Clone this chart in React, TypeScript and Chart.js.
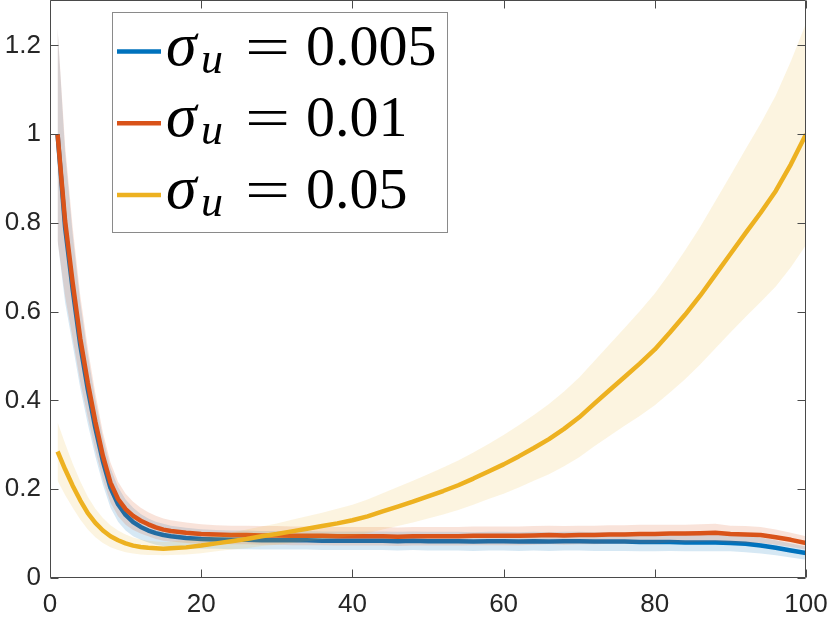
import React, { useEffect, useRef } from 'react';
import { Chart, registerables } from 'chart.js';

Chart.register(...registerables);

// ---------- data ----------
const xs = [1, 2, 3, 4, 5, 6, 7, 8, 9, 10, 11, 12, 13, 14, 15, 16, 18, 20, 22, 24, 26, 28, 30, 32, 34, 36, 38, 40,
  42, 44, 46, 48, 50, 52, 54, 56, 58, 60, 62, 64, 66, 68, 70, 72, 74, 76, 78, 80, 82, 84, 86, 88, 90, 92, 94, 96, 98, 100];

const blueMean = [1.0, 0.79, 0.65, 0.525, 0.425, 0.338, 0.263, 0.203, 0.166, 0.142, 0.126, 0.115, 0.107, 0.101, 0.097, 0.094,
  0.090, 0.088, 0.087, 0.086, 0.086, 0.085, 0.085, 0.085, 0.085, 0.084, 0.084, 0.084,
  0.084, 0.084, 0.083, 0.084, 0.083, 0.083, 0.083, 0.082, 0.083, 0.083, 0.082, 0.083, 0.082, 0.083, 0.083, 0.082,
  0.082, 0.082, 0.081, 0.081, 0.081, 0.080, 0.080, 0.080, 0.079, 0.077, 0.073, 0.068, 0.062, 0.056];

const orangeMean = [1.0, 0.804, 0.665, 0.54, 0.44, 0.352, 0.275, 0.215, 0.178, 0.155, 0.14, 0.129, 0.121, 0.114, 0.109, 0.106,
  0.102, 0.099, 0.098, 0.097, 0.097, 0.096, 0.096, 0.095, 0.095, 0.095, 0.094, 0.094,
  0.094, 0.094, 0.093, 0.094, 0.094, 0.094, 0.094, 0.095, 0.095, 0.095, 0.095, 0.096, 0.097, 0.096, 0.097, 0.097,
  0.098, 0.098, 0.099, 0.099, 0.100, 0.100, 0.101, 0.102, 0.099, 0.098, 0.097, 0.092, 0.086, 0.079];

const yellowMean = [0.285, 0.245, 0.208, 0.175, 0.146, 0.124, 0.107, 0.094, 0.085, 0.078, 0.073, 0.070, 0.068, 0.067, 0.066, 0.067,
  0.069, 0.073, 0.078, 0.083, 0.088, 0.094, 0.099, 0.105, 0.111, 0.117, 0.123, 0.130,
  0.139, 0.150, 0.161, 0.172, 0.184, 0.196, 0.209, 0.224, 0.240, 0.256, 0.274, 0.293, 0.313, 0.336, 0.362, 0.393,
  0.423, 0.453, 0.483, 0.515, 0.553, 0.593, 0.636, 0.683, 0.730, 0.777, 0.823, 0.872, 0.932, 1.000];

// half-widths of the shaded bands
const blueOrangeSpread = [0.24, 0.17, 0.125, 0.097, 0.078, 0.064, 0.053, 0.045, 0.039, 0.035, 0.032, 0.029, 0.027, 0.026, 0.025, 0.024,
  0.023, 0.022, 0.021, 0.021, 0.021, 0.021, 0.021, 0.021, 0.021, 0.021, 0.021, 0.021,
  0.021, 0.021, 0.021, 0.021, 0.021, 0.021, 0.021, 0.021, 0.021, 0.021, 0.021, 0.021, 0.021, 0.021, 0.021, 0.021,
  0.021, 0.021, 0.021, 0.021, 0.020, 0.020, 0.020, 0.020, 0.019, 0.019, 0.018, 0.017, 0.016, 0.015];

const yellowSpread = [0.066, 0.058, 0.05, 0.043, 0.037, 0.032, 0.028, 0.025, 0.022, 0.02, 0.018, 0.017, 0.016, 0.015, 0.015, 0.015,
  0.016, 0.017, 0.018, 0.019, 0.021, 0.022, 0.024, 0.026, 0.028, 0.030, 0.033, 0.035,
  0.038, 0.041, 0.044, 0.047, 0.05, 0.053, 0.056, 0.059, 0.062, 0.066, 0.07, 0.074, 0.079, 0.084, 0.09, 0.096,
  0.103, 0.11, 0.118, 0.126, 0.135, 0.145, 0.155, 0.166, 0.177, 0.189, 0.201, 0.215, 0.232, 0.25];

const seriesValues = ['0.005', '0.01', '0.05'];
const xTicks = [0, 20, 40, 60, 80, 100];
const yTicks = [0, 0.2, 0.4, 0.6, 0.8, 1, 1.2];

const BLUE = '#0072BD';
const ORANGE = '#D95319';
const YELLOW = '#EDB120';

const pts = (ys: number[]) => xs.map((x, i) => ({ x, y: ys[i] }));
const shift = (m: number[], h: number[], s: number) => m.map((v, i) => v + s * h[i]);

const bandPair = (mean: number[], spread: number[], fillColor: string) => [
  {
    data: pts(shift(mean, spread, -1)),
    borderColor: 'transparent', borderWidth: 0, pointRadius: 0, fill: false,
  },
  {
    data: pts(shift(mean, spread, 1)),
    borderColor: 'transparent', borderWidth: 0, pointRadius: 0,
    fill: '-1', backgroundColor: fillColor,
  },
];

const lineSet = (mean: number[], color: string) => ({
  data: pts(mean), borderColor: color, borderWidth: 4.5, pointRadius: 0, fill: false,
  tension: 0, borderJoinStyle: 'round' as const, borderCapStyle: 'butt' as const,
});

const boxPlugin = {
  id: 'boxTicks',
  afterDatasetsDraw(chart: any) {
    const { ctx, chartArea, scales } = chart;
    const { left, right, top, bottom } = chartArea;
    ctx.save();
    ctx.strokeStyle = '#4a4a4a';
    ctx.lineWidth = 1;
    ctx.beginPath();
    ctx.rect(left + 0.5, top - 0.5, right - left - 1, bottom - top);
    ctx.stroke();
    const tl = 8;
    ctx.beginPath();
    xTicks.forEach((v) => {
      const p = Math.round(scales.x.getPixelForValue(v)) + 0.5;
      ctx.moveTo(p, bottom - 0.5); ctx.lineTo(p, bottom - 0.5 - tl);
      ctx.moveTo(p, top - 0.5); ctx.lineTo(p, top - 0.5 + tl);
    });
    yTicks.forEach((v) => {
      const p = Math.round(scales.y.getPixelForValue(v)) + 0.5;
      ctx.moveTo(left + 0.5, p); ctx.lineTo(left + 0.5 + tl, p);
      ctx.moveTo(right - 0.5, p); ctx.lineTo(right - 0.5 - tl, p);
    });
    ctx.stroke();
    ctx.restore();
  },
};

const legendPlugin = {
  id: 'mathLegend',
  afterDraw(chart: any) {
    const { ctx, chartArea } = chart;
    const bx = chartArea.left + 62;
    const by = chartArea.top + 11;
    const bw = 335;
    const bh = 220;
    ctx.save();
    ctx.fillStyle = '#ffffff';
    ctx.fillRect(bx, by, bw, bh);
    ctx.strokeStyle = '#8a8a8a';
    ctx.lineWidth = 1;
    ctx.strokeRect(bx + 0.5, by + 0.5, bw, bh);
    const colors = [BLUE, ORANGE, YELLOW];
    seriesValues.forEach((val, i) => {
      const ly = by + 39.5 + i * 71.7;
      ctx.strokeStyle = colors[i];
      ctx.lineWidth = 4.5;
      ctx.beginPath();
      ctx.moveTo(bx + 5, ly);
      ctx.lineTo(bx + 49, ly);
      ctx.stroke();
      ctx.fillStyle = '#000000';
      ctx.textBaseline = 'alphabetic';
      ctx.textAlign = 'left';
      ctx.font = 'italic 62px "Liberation Serif"';
      ctx.fillText('σ', bx + 54, ly + 13);
      ctx.font = 'italic 44px "Liberation Serif"';
      ctx.fillText('u', bx + 89, ly + 21);
      ctx.save();
      ctx.font = '58px "Liberation Serif"';
      ctx.translate(bx + 133, ly + 14);
      ctx.scale(1.38, 1);
      ctx.fillText('=', 0, 0);
      ctx.restore();
      ctx.font = '58px "Liberation Serif"';
      ctx.fillText(val, bx + 194, ly + 13);
    });
    ctx.restore();
  },
};

export default function App() {
  const ref = useRef<HTMLCanvasElement | null>(null);
  useEffect(() => {
    if (!ref.current) return;
    const datasets: any[] = [
      ...bandPair(blueMean, blueOrangeSpread, 'rgba(0,114,189,0.16)'),
      lineSet(blueMean, BLUE),
      ...bandPair(orangeMean, blueOrangeSpread, 'rgba(217,83,25,0.16)'),
      lineSet(orangeMean, ORANGE),
      ...bandPair(yellowMean, yellowSpread, 'rgba(237,177,32,0.14)'),
      lineSet(yellowMean, YELLOW),
    ];
    datasets.forEach((d, i) => { d.order = datasets.length - 1 - i; });
    const tickFont = { family: '"Liberation Sans", Arial, sans-serif', size: 26 };
    const chart = new Chart(ref.current, {
      type: 'line',
      data: { datasets },
      options: {
        responsive: false,
        animation: false,
        devicePixelRatio: 1,
        layout: { padding: { top: 1, right: 24, left: 0, bottom: 0 } },
        plugins: { legend: { display: false }, tooltip: { enabled: false } },
        scales: {
          x: {
            type: 'linear', min: 0, max: 100,
            grid: { display: false, drawTicks: false },
            border: { display: false },
            ticks: { stepSize: 20, font: tickFont, color: '#262626', padding: 11, maxRotation: 0, includeBounds: false },
            afterFit: (s: any) => { s.height = 45; s.paddingLeft = 0; s.paddingRight = 0; },
          },
          y: {
            type: 'linear', min: 0, max: 1.3,
            grid: { display: false, drawTicks: false },
            border: { display: false },
            ticks: {
              stepSize: 0.2, font: tickFont, color: '#262626', padding: 9, includeBounds: false,
              callback: (v: any) => String(Number(Number(v).toFixed(1))),
            },
            afterFit: (s: any) => { s.width = 50; s.paddingTop = 0; s.paddingBottom = 0; },
          },
        },
      },
      plugins: [boxPlugin, legendPlugin],
    } as any);
    return () => chart.destroy();
  }, []);
  return (
    <div style={{ position: 'absolute', left: 0, top: 0, width: 830, height: 623, background: '#fff' }}>
      <canvas ref={ref} width={830} height={623} />
    </div>
  );
}
